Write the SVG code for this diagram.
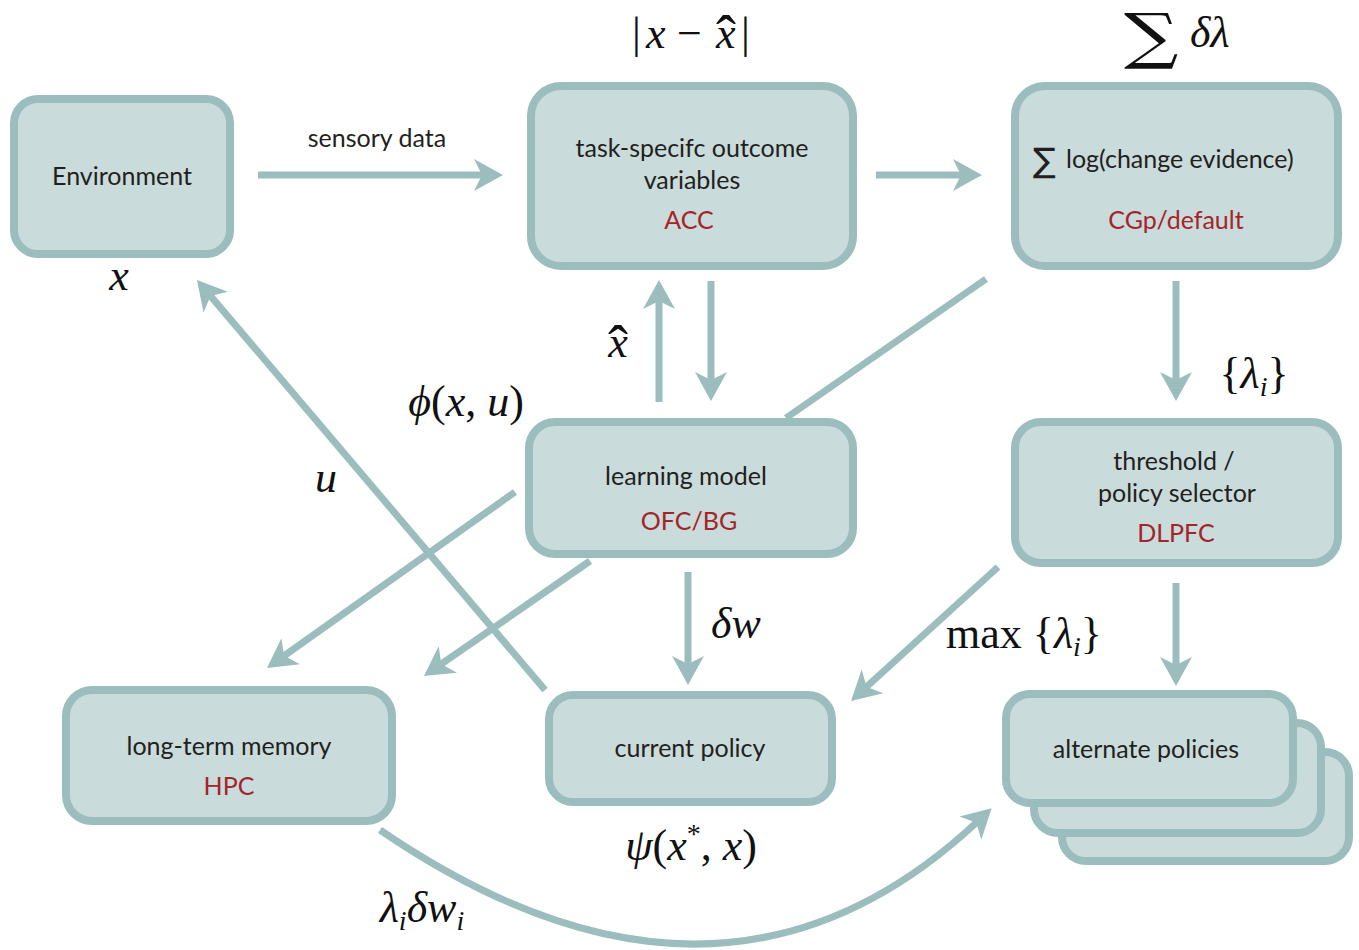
<svg xmlns="http://www.w3.org/2000/svg" width="1359" height="950" viewBox="0 0 1359 950">
<defs>
<style>
.box{fill:#c9dbdb;stroke:#9bbdbd;stroke-width:8}
.lbl{font-family:Lato,"Open Sans",sans-serif;font-size:25px;fill:#231f20;text-anchor:middle}
.red{fill:#a3252a}
.con{fill:none;stroke:#9bbdbd;stroke-width:7}
.m{font-family:"Liberation Serif","DejaVu Serif",serif;fill:#111;font-size:44px}
.i{font-style:italic}
.s{font-size:28px;font-style:italic}
.hat{font-size:60px;font-style:normal}
</style>
<marker id="ah" viewBox="-30 -17 32 34" refX="-20" refY="0" markerWidth="32" markerHeight="34" markerUnits="userSpaceOnUse" orient="auto">
<path d="M0,0 L-29,-16 L-21,0 L-29,16 Z" fill="#9bbdbd"/>
</marker>
</defs>
<rect width="1359" height="950" fill="#ffffff"/>

<g id="connectors">
<line class="con" x1="258" y1="175" x2="483" y2="175" marker-end="url(#ah)"/>
<line class="con" x1="876" y1="175" x2="962" y2="175" marker-end="url(#ah)"/>
<line class="con" x1="659" y1="402" x2="659" y2="300" marker-end="url(#ah)"/>
<line class="con" x1="711" y1="281" x2="711" y2="381" marker-end="url(#ah)"/>
<line class="con" x1="1176" y1="281" x2="1176" y2="381" marker-end="url(#ah)"/>
<line class="con" x1="1176" y1="583" x2="1176" y2="666" marker-end="url(#ah)"/>
<line class="con" x1="998" y1="567" x2="865.8" y2="687.5" marker-end="url(#ah)"/>
<line class="con" x1="688" y1="572" x2="688" y2="665" marker-end="url(#ah)"/>
<line class="con" x1="545" y1="690" x2="209.9" y2="295.2" marker-end="url(#ah)"/>
<line class="con" x1="515" y1="492" x2="283.3" y2="656.4" marker-end="url(#ah)"/>
<line class="con" x1="590" y1="561" x2="440.4" y2="664.6" marker-end="url(#ah)"/>
<line class="con" x1="986" y1="279" x2="786" y2="418"/>
<path class="con" d="M380,830 Q720,1062 977,822" marker-end="url(#ah)"/>
</g>

<g id="environment">
<rect class="box" x="14" y="99" width="216" height="155" rx="24"/>
<text class="lbl" x="122" y="185">Environment</text>
</g>

<g id="acc">
<rect class="box" x="531" y="86" width="322" height="180" rx="30"/>
<text class="lbl" x="692" y="157">task-specifc outcome</text>
<text class="lbl" x="692" y="189">variables</text>
<text class="lbl red" x="689" y="229">ACC</text>
</g>

<g id="cgp">
<rect class="box" x="1015" y="86" width="323" height="180" rx="30"/>
<text x="1033" y="172" style="font-family:'DejaVu Sans',sans-serif;font-size:34px;fill:#231f20">∑</text>
<text class="lbl" x="1066" y="168" style="text-anchor:start">log(change evidence)</text>
<text class="lbl red" x="1176" y="229">CGp/default</text>
</g>

<g id="learning">
<rect class="box" x="529" y="422" width="324" height="132" rx="26"/>
<text class="lbl" x="686" y="485">learning model</text>
<text class="lbl red" x="689" y="530">OFC/BG</text>
</g>

<g id="threshold">
<rect class="box" x="1015" y="422" width="323" height="141" rx="26"/>
<text class="lbl" x="1174" y="470">threshold /</text>
<text class="lbl" x="1177" y="502">policy selector</text>
<text class="lbl red" x="1176" y="542">DLPFC</text>
</g>

<g id="ltm">
<rect class="box" x="66" y="690" width="326" height="131" rx="26"/>
<text class="lbl" x="229" y="755">long-term memory</text>
<text class="lbl red" x="229" y="795">HPC</text>
</g>

<g id="current">
<rect class="box" x="549" y="695" width="283" height="107" rx="24"/>
<text class="lbl" x="690" y="757">current policy</text>
</g>

<g id="alternate">
<rect class="box" x="1062" y="752" width="287" height="109" rx="24"/>
<rect class="box" x="1034" y="723" width="287" height="110" rx="24"/>
<rect class="box" x="1006" y="694" width="287" height="109" rx="24"/>
<text class="lbl" x="1146" y="758">alternate policies</text>
</g>

<g id="labels">
<text class="lbl" x="377" y="147">sensory data</text>
<text class="m" y="48"><tspan x="632">|</tspan><tspan class="i" x="646">x</tspan><tspan x="677">−</tspan><tspan class="i" x="716">x</tspan><tspan x="741">|</tspan><tspan class="hat" x="716" y="56">ˆ</tspan></text>
<text x="1124" y="57" transform="translate(1124,0) scale(1.25,1) translate(-1124,0)" style="font-family:'DejaVu Serif',serif;font-size:61px;fill:#111">∑</text>
<text class="m i" x="1190" y="47">δλ</text>
<text class="m i" x="119" y="290" text-anchor="middle">x</text>
<text class="m" text-anchor="middle"><tspan class="i" x="618" y="357">x</tspan><tspan class="hat" x="618" y="366">ˆ</tspan></text>
<text class="m" x="466" y="416" text-anchor="middle"><tspan class="i">ϕ</tspan>(<tspan class="i">x</tspan>, <tspan class="i">u</tspan>)</text>
<text class="m i" x="326" y="492" text-anchor="middle">u</text>
<text class="m" x="1254" y="388" text-anchor="middle">{<tspan class="i">λ</tspan><tspan class="s" dy="8">i</tspan><tspan dy="-8">}</tspan></text>
<text class="m i" x="736" y="638" text-anchor="middle">δw</text>
<text class="m" x="1024" y="648" text-anchor="middle">max {<tspan class="i">λ</tspan><tspan class="s" dy="8">i</tspan><tspan dy="-8">}</tspan></text>
<text class="m" x="691" y="860" text-anchor="middle"><tspan class="i">ψ</tspan>(<tspan class="i">x</tspan><tspan font-size="28" dy="-17">*</tspan><tspan dy="17">, </tspan><tspan class="i">x</tspan>)</text>
<text class="m" x="422" y="922" text-anchor="middle"><tspan class="i">λ</tspan><tspan class="s" dy="8">i</tspan><tspan class="i" dy="-8">δw</tspan><tspan class="s" dy="8">i</tspan></text>
</g>
</svg>
